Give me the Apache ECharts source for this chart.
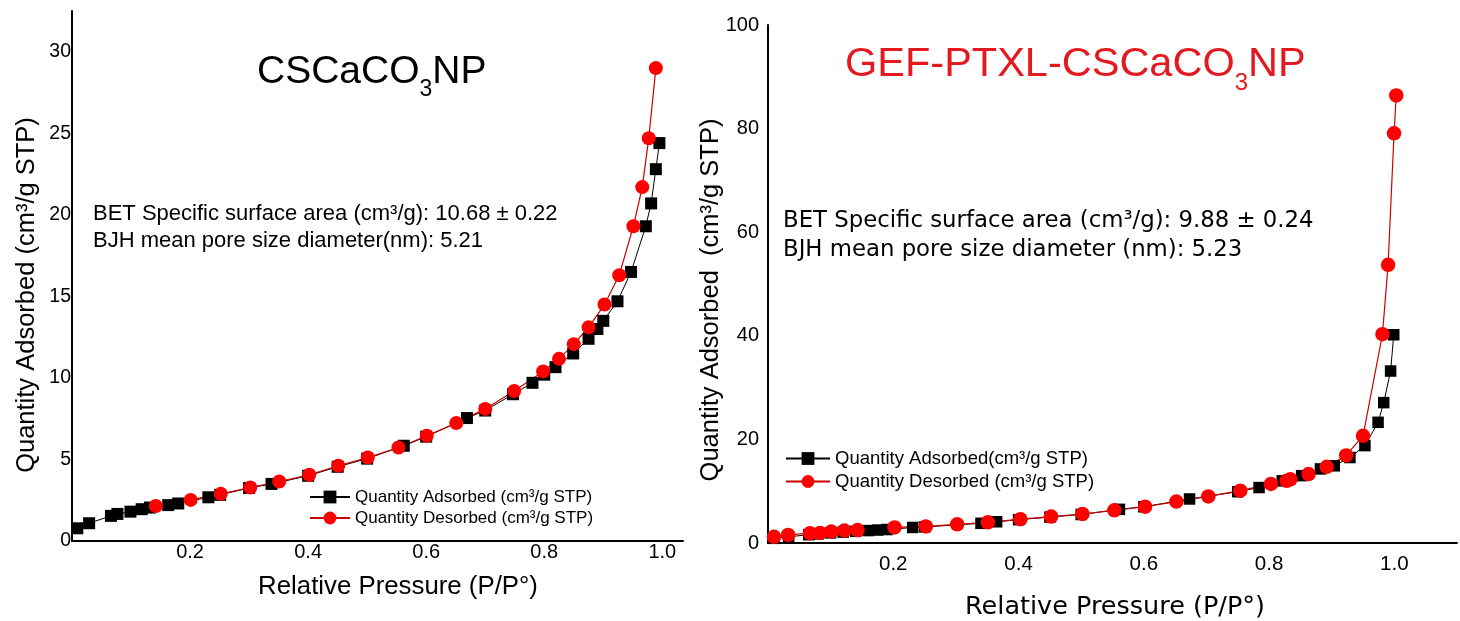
<!DOCTYPE html>
<html>
<head>
<meta charset="utf-8">
<script src="https://cdn.jsdelivr.net/npm/echarts@6/dist/echarts.min.js"></script>
<style>
  html, body { margin: 0; padding: 0; background: #fff; }
  #chart { width: 1460px; height: 621px; }
</style>
</head>
<body>
<div id="chart"></div>
<script>
// CSCaCO3NP (left panel) - relative pressure / quantity adsorbed
const cscAdsP = [0.009, 0.029, 0.066, 0.077, 0.099, 0.118, 0.132, 0.163, 0.18, 0.231, 0.251, 0.30, 0.338, 0.40, 0.45, 0.50, 0.562, 0.60, 0.669, 0.70, 0.747, 0.78, 0.80, 0.819, 0.849, 0.875, 0.89, 0.90, 0.924, 0.947, 0.972, 0.981, 0.989, 0.995];
const cscAdsQ = [0.78, 1.09, 1.54, 1.66, 1.80, 1.95, 2.05, 2.2, 2.3, 2.68, 2.83, 3.25, 3.5, 4.0, 4.55, 5.05, 5.84, 6.4, 7.54, 8.0, 9.0, 9.7, 10.2, 10.66, 11.5, 12.4, 13.0, 13.5, 14.7, 16.5, 19.3, 20.7, 22.8, 24.4];
const cscDesP = [0.142, 0.201, 0.252, 0.302, 0.351, 0.402, 0.451, 0.501, 0.553, 0.601, 0.651, 0.70, 0.749, 0.798, 0.825, 0.85, 0.875, 0.902, 0.927, 0.951, 0.966, 0.977, 0.989];
const cscDesQ = [2.15, 2.52, 2.89, 3.28, 3.65, 4.06, 4.61, 5.12, 5.73, 6.45, 7.23, 8.1, 9.2, 10.4, 11.17, 12.07, 13.1, 14.5, 16.3, 19.3, 21.7, 24.7, 29.0];

// GEF-PTXL-CSCaCO3NP (right panel)
const gefAdsP = [0.01, 0.033, 0.065, 0.08, 0.1, 0.12, 0.14, 0.16, 0.175, 0.19, 0.231, 0.25, 0.34, 0.365, 0.4, 0.45, 0.5, 0.561, 0.6, 0.673, 0.75, 0.784, 0.821, 0.852, 0.882, 0.904, 0.929, 0.953, 0.974, 0.983, 0.994, 0.999];
const gefAdsQ = [0.9, 1.2, 1.6, 1.75, 1.95, 2.1, 2.25, 2.4, 2.5, 2.6, 3.0, 3.1, 3.8, 4.1, 4.5, 5.0, 5.5, 6.5, 7.0, 8.5, 9.9, 10.7, 12.0, 13.0, 14.3, 14.9, 16.5, 18.8, 23.3, 27.1, 33.2, 40.2];
const gefDesP = [0.0095, 0.032, 0.067, 0.083, 0.101, 0.122, 0.143, 0.202, 0.252, 0.302, 0.351, 0.403, 0.452, 0.502, 0.553, 0.602, 0.652, 0.703, 0.754, 0.803, 0.828, 0.834, 0.863, 0.892, 0.923, 0.95, 0.981, 0.99, 0.9995, 1.003];
const gefDesQ = [1.2, 1.55, 1.9, 1.95, 2.2, 2.4, 2.5, 3.0, 3.2, 3.6, 4.0, 4.6, 5.1, 5.6, 6.3, 7.0, 8.0, 9.0, 10.1, 11.4, 12.0, 12.3, 13.3, 14.7, 16.9, 20.7, 40.3, 53.7, 79.1, 86.4];

const leftAdsName = 'Quantity Adsorbed (cm³/g STP)';
const rightAdsName = 'Quantity Adsorbed(cm³/g STP)';
const desName = 'Quantity Desorbed (cm³/g STP)';

const FONT = 'Liberation Sans, Arial, sans-serif';
const WIDE = 'DejaVu Sans, sans-serif';

function pts(xs, ys) {
  return xs.map(function (x, i) { return [x, ys[i]]; });
}

function xLabel(max) {
  return function (v) {
    if (v === 0 || v > max + 0.001) return '';
    return v.toFixed(1);
  };
}

function axisLineStyle() {
  return { show: true, onZero: false, lineStyle: { color: '#000', width: 2 } };
}

let myChart = echarts.init(document.getElementById('chart'));

myChart.setOption({
  animation: false,
  backgroundColor: '#fff',
  grid: [
    { left: 72, top: 11, width: 611, height: 530 },
    { left: 768, top: 25, width: 693, height: 518 }
  ],
  xAxis: [
    {
      gridIndex: 0, type: 'value', min: 0, max: 1.035, interval: 0.2,
      axisLine: axisLineStyle(), axisTick: { show: false }, splitLine: { show: false },
      axisLabel: { formatter: xLabel(1.0), color: '#000', fontSize: 20, fontFamily: FONT, margin: 1 }
    },
    {
      gridIndex: 1, type: 'value', min: 0, max: 1.1, interval: 0.2,
      axisLine: axisLineStyle(), axisTick: { show: false }, splitLine: { show: false },
      axisLabel: { formatter: xLabel(1.0), color: '#000', fontSize: 20.5, fontFamily: FONT, margin: 11 }
    }
  ],
  yAxis: [
    {
      gridIndex: 0, type: 'value', min: 0, max: 32.5, interval: 5,
      axisLine: axisLineStyle(), axisTick: { show: false }, splitLine: { show: false },
      axisLabel: {
        formatter: function (v) { return v > 30 ? '' : String(v); },
        color: '#000', fontSize: 19.5, fontFamily: FONT, margin: 1
      }
    },
    {
      gridIndex: 1, type: 'value', min: 0, max: 100, interval: 20,
      axisLine: axisLineStyle(), axisTick: { show: false }, splitLine: { show: false },
      axisLabel: { color: '#000', fontSize: 20, fontFamily: FONT, margin: 9 }
    }
  ],
  legend: [
    {
      data: [leftAdsName, desName], left: 309, top: 488, orient: 'vertical',
      padding: 0, itemWidth: 40, itemHeight: 16, itemGap: 3, selectedMode: false,
      textStyle: { color: '#000', fontSize: 17, lineHeight: 18, fontFamily: FONT }
    },
    {
      data: [rightAdsName, desName], left: 785, top: 449, orient: 'vertical',
      padding: 0, itemWidth: 44, itemHeight: 16, itemGap: 4, selectedMode: false,
      textStyle: { color: '#000', fontSize: 18.5, lineHeight: 19, fontFamily: FONT }
    }
  ],
  series: [
    {
      name: leftAdsName, type: 'line', xAxisIndex: 0, yAxisIndex: 0,
      data: pts(cscAdsP, cscAdsQ), symbol: 'rect', symbolSize: 12,
      itemStyle: { color: '#000' }, lineStyle: { color: '#000', width: 1 },
      emphasis: { disabled: true }
    },
    {
      name: desName, type: 'line', xAxisIndex: 0, yAxisIndex: 0,
      data: pts(cscDesP, cscDesQ), symbol: 'circle', symbolSize: 14,
      itemStyle: { color: '#ff0000' }, lineStyle: { color: '#cc0000', width: 1.2 },
      emphasis: { disabled: true }
    },
    {
      name: rightAdsName, type: 'line', xAxisIndex: 1, yAxisIndex: 1,
      data: pts(gefAdsP, gefAdsQ), symbol: 'rect', symbolSize: 11.5,
      itemStyle: { color: '#000' }, lineStyle: { color: '#000', width: 1 },
      emphasis: { disabled: true }
    },
    {
      name: desName, type: 'line', xAxisIndex: 1, yAxisIndex: 1,
      data: pts(gefDesP, gefDesQ), symbol: 'circle', symbolSize: 14.5,
      itemStyle: { color: '#ff0000' }, lineStyle: { color: '#cc0000', width: 1.2 },
      emphasis: { disabled: true }
    }
  ],
  graphic: [
    // panel titles
    {
      type: 'text', x: 257, y: 72,
      style: {
        text: '{a|CSCaCO}{b|3}{a|NP}', verticalAlign: 'middle', align: 'left',
        rich: {
          a: { fontSize: 39, lineHeight: 58, fontFamily: FONT, fill: '#000' },
          b: { fontSize: 23, lineHeight: 23, fontFamily: FONT, fill: '#000', verticalAlign: 'bottom' }
        }
      }
    },
    {
      type: 'text', x: 845, y: 65,
      style: {
        text: '{a|GEF-PTXL-CSCaCO}{b|3}{a|NP}', verticalAlign: 'middle', align: 'left',
        rich: {
          a: { fontSize: 41.5, lineHeight: 61, fontFamily: FONT, fill: '#e3191f' },
          b: { fontSize: 24, lineHeight: 24, fontFamily: FONT, fill: '#e3191f', verticalAlign: 'bottom' }
        }
      }
    },
    // BET / BJH notes
    {
      type: 'text', x: 93, y: 227.5,
      style: {
        text: 'BET Specific surface area (cm³/g): 10.68 ± 0.22\nBJH mean pore size diameter(nm): 5.21',
        fontSize: 22, lineHeight: 27, fontFamily: FONT, fill: '#000', verticalAlign: 'middle'
      }
    },
    {
      type: 'text', x: 783, y: 235.5,
      style: {
        text: 'BET Specific surface area (cm³/g): 9.88 ± 0.24\nBJH mean pore size diameter (nm): 5.23',
        fontSize: 22.8, lineHeight: 29, fontFamily: WIDE, fill: '#000', verticalAlign: 'middle'
      }
    },
    // axis titles
    {
      type: 'text', x: 27, y: 295, rotation: Math.PI / 2,
      style: { text: 'Quantity Adsorbed (cm³/g STP)', fontSize: 25.5, fontFamily: FONT, fill: '#000', align: 'center', verticalAlign: 'middle' }
    },
    {
      type: 'text', x: 711, y: 300, rotation: Math.PI / 2,
      style: { text: 'Quantity Adsorbed  (cm³/g STP)', fontSize: 25.5, fontFamily: FONT, fill: '#000', align: 'center', verticalAlign: 'middle' }
    },
    {
      type: 'text', x: 398, y: 587,
      style: { text: 'Relative Pressure (P/P°)', fontSize: 25.8, fontFamily: FONT, fill: '#000', align: 'center', verticalAlign: 'middle' }
    },
    {
      type: 'text', x: 1115, y: 607,
      style: { text: 'Relative Pressure (P/P°)', fontSize: 25.5, fontFamily: WIDE, fill: '#000', align: 'center', verticalAlign: 'middle' }
    }
  ]
});
</script>
</body>
</html>
